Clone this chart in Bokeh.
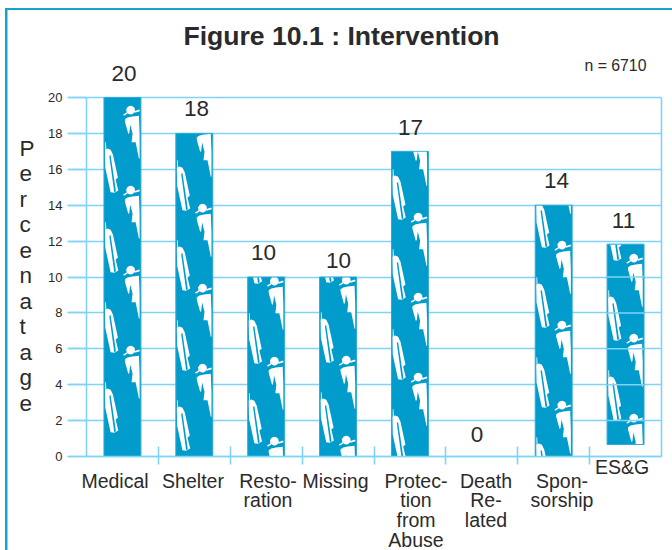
import numpy as np
from bokeh.plotting import figure
from bokeh.models import FixedTicker, Grid, Label, LinearAxis, Range1d
from bokeh.embed import file_html
from bokeh.resources import INLINE

# ---- chart values ----
categories = ["Medical", "Shelter", "Resto-\nration", "Missing",
              "Protec-\ntion\nfrom\nAbuse", "Death\nRe-\nlated", "Spon-\nsorship", "ES&G"]
value_labels = [20, 18, 10, 10, 17, 0, 14, 11]
bar_tops = [20, 18, 10, 10, 17, 0, 14, 11.83]
bar_bottoms = [0, 0, 0, 0, 0, 0, 0, 0.67]
y_ticks = [0, 2, 4, 6, 8, 10, 12, 14, 16, 18, 20]
y_label = "Percenatage"
title_text = "Figure 10.1 : Intervention"
note_text = "n = 6710"

# ---- layout and styles ----
W, H = 672, 550
L, R, T, B = 86, 661, 97, 456
BAR = "#019ccb"
GRID = "#7fd3f6"
EDGE = "#2faad6"
FRAME = "#14a3cc"
INK = "#2b2a2b"
FONT = "Liberation Sans"
BAR_W = 0.514


def dx(px):
    return (px - L) / (R - L) * 8


def dy(py):
    return (B - py) / (B - T) * 20


cat_cx = [114.5, 192.5, 267.5, 335, 415.5, 485.5, 561.5, 621.5]
cat_top = [469, 469, 469, 469, 469, 469, 469, 455]
val_cx = [123.5, 196, 263, 338, 410, 476.5, 556, 623]
val_cy = [73, 108, 252, 260, 127, 434, 180, 220]

women = [[110, 190, 270, 350], [128, 208, 288, 368], [281, 361, 441], [280, 360, 440],
         [137, 217, 297, 377], [], [165, 245, 325, 405], [258, 338, 418]]
men = [[110, 190, 270, 350], [128, 208, 288, 368], [201, 281, 361], [200, 280, 360],
       [137, 217, 297, 377], [], [165, 245, 325, 405], [178, 258, 338]]


def shape(pts):
    return (np.array(pts, float) - [96.5, 60]) / 3


t = np.linspace(0, 2 * np.pi, 18)[:-1]
HEAD = shape(np.c_[121 + 13 * np.cos(t), 59 + 13 * np.sin(t)])
WOMAN = shape([(104, 86), (112, 81), (126, 78), (146, 76), (148, 130), (148, 205), (146, 205), (138, 165), (136, 155),
               (124, 155), (127, 130), (120, 102), (117, 128), (114, 130), (104, 94)])
TAILS = [shape([(99, 72), (110, 65), (112, 69), (101, 76)]), shape([(132, 62), (147, 57), (149, 62), (133, 67)])]
SPIKE = shape([(45, 155), (47, 155), (48, 176), (45, 176)])
MAN = shape([(44, 177), (52, 174), (61, 178), (68, 192), (83, 262), (76, 267), (71, 245), (84, 300),
             (72, 307), (61, 305), (45, 232)])
MAN_SLIT = shape([(57, 196), (61, 194), (77, 302), (72, 305)])


def clip(poly, x0, x1, y0, y1):
    """Clip a polygon to the bar rectangle (page pixels)."""
    def cut(points, axis, bound, keep_low):
        out = []
        for i in range(len(points)):
            a, b = points[i], points[(i + 1) % len(points)]
            ina = a[axis] <= bound if keep_low else a[axis] >= bound
            inb = b[axis] <= bound if keep_low else b[axis] >= bound
            if ina:
                out.append(a)
            if ina != inb:
                f = (bound - a[axis]) / (b[axis] - a[axis])
                out.append(a + f * (b - a))
        return out
    pts = list(poly)
    for axis, bound, low in ((0, x0, False), (0, x1, True), (1, y0, False), (1, y1, True)):
        if pts:
            pts = cut(pts, axis, bound, low)
    return np.array(pts)


p = figure(width=W, height=H, output_backend="svg", toolbar_location=None,
           x_range=Range1d(dx(0), dx(W)), y_range=Range1d(dy(H), dy(0)),
           x_axis_type=None, y_axis_type=None,
           min_border_left=0, min_border_right=0, min_border_top=0, min_border_bottom=0,
           outline_line_color=None, background_fill_color="white", border_fill_color="white")

p.add_layout(Grid(dimension=1, ticker=FixedTicker(ticks=y_ticks), cross_bounds=(dx(67.5), 8),
                  grid_line_color=GRID, grid_line_width=1.6))
p.add_layout(Grid(dimension=0, ticker=FixedTicker(ticks=[0, 8]), cross_bounds=(0, 20),
                  grid_line_color=GRID, grid_line_width=1.6))

yaxis = LinearAxis(ticker=FixedTicker(ticks=y_ticks), fixed_location=0)
yaxis.axis_line_color = None
yaxis.major_tick_line_color = GRID
yaxis.major_tick_line_width = 1.6
yaxis.major_tick_in = 0
yaxis.major_tick_out = 19
yaxis.minor_tick_line_color = None
yaxis.major_label_standoff = 5
yaxis.major_label_text_font = FONT
yaxis.major_label_text_font_size = "13px"
yaxis.major_label_text_color = INK
p.add_layout(yaxis, "left")

xaxis = LinearAxis(ticker=FixedTicker(ticks=[1, 2, 3, 4, 5, 6, 7]), fixed_location=0, bounds=(0, 8))
xaxis.axis_line_color = GRID
xaxis.axis_line_width = 1.6
xaxis.major_tick_line_color = GRID
xaxis.major_tick_line_width = 1.6
xaxis.major_tick_in = 10
xaxis.major_tick_out = 8
xaxis.minor_tick_line_color = None
xaxis.major_label_overrides = {i: "" for i in range(1, 8)}
p.add_layout(xaxis, "below")

centers = [i + 0.5 for i in range(8)]
shown = [i for i in range(8) if bar_tops[i] > 0]
p.quad(left=[centers[i] - BAR_W / 2 for i in shown], right=[centers[i] + BAR_W / 2 for i in shown],
       top=[bar_tops[i] for i in shown], bottom=[bar_bottoms[i] for i in shown],
       fill_color=BAR, line_color=EDGE, line_width=1)

white_xs, white_ys, slit_xs, slit_ys = [], [], [], []
for i in shown:
    sc = L + centers[i] * (R - L) / 8
    half = BAR_W / 2 * (R - L) / 8 - 0.5
    y0 = B - bar_tops[i] * (B - T) / 20 + 0.5
    y1 = B - bar_bottoms[i] * (B - T) / 20 - 0.5

    def add(poly, base, xs, ys):
        c = clip(poly + [sc, base], sc - half, sc + half, y0, y1)
        if len(c) > 2:
            xs.append(dx(c[:, 0]))
            ys.append(dy(c[:, 1]))
    for h in women[i]:
        for part in [HEAD, WOMAN] + TAILS:
            add(part, h, white_xs, white_ys)
    for h in men[i]:
        add(MAN, h, white_xs, white_ys)
        add(SPIKE, h, white_xs, white_ys)
        add(MAN_SLIT, h, slit_xs, slit_ys)

p.patches(white_xs, white_ys, fill_color="white", line_color=None)
p.patches(slit_xs, slit_ys, fill_color=BAR, line_color=None)

last = len(categories) - 1
rows = [v for v in y_ticks if bar_bottoms[last] < v < bar_tops[last]]
p.segment(x0=[centers[last] - BAR_W / 2] * len(rows), x1=[centers[last] + BAR_W / 2] * len(rows),
          y0=rows, y1=rows, line_color=GRID, line_width=1.5)

for i, v in enumerate(value_labels):
    p.add_layout(Label(x=dx(val_cx[i]), y=dy(val_cy[i]), text=str(v), text_align="center", text_baseline="middle",
                       text_font=FONT, text_font_size="22.5px", text_color=INK))

for i, c in enumerate(categories):
    p.add_layout(Label(x=dx(cat_cx[i]), y=dy(cat_top[i]), text=c, text_align="center", text_baseline="top",
                       text_font=FONT, text_font_size="19.5px", text_color=INK, text_line_height=0.905))

p.add_layout(Label(x=dx(19), y=dy(135), text="\n".join(y_label), text_align="left", text_baseline="top",
                   text_font=FONT, text_font_size="22.5px", text_color=INK, text_line_height=1.02))
p.add_layout(Label(x=dx(584), y=dy(65), text=note_text, text_align="left", text_baseline="middle",
                   text_font=FONT, text_font_size="15.8px", text_color=INK))
p.add_layout(Label(x=dx(341), y=dy(35), text=title_text, text_align="center", text_baseline="middle",
                   text_font=FONT, text_font_size="26.6px", text_font_style="bold", text_color=INK))

p.quad(left=[dx(4.5), dx(4.5)], right=[dx(W), dx(7)], top=[dy(7.5), dy(7.5)], bottom=[dy(9.5), dy(H)],
       fill_color=FRAME, line_color=None)

open("out.html", "w").write(file_html(p, INLINE))
